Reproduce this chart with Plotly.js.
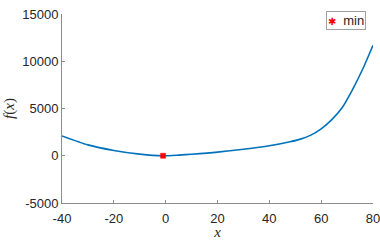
<!DOCTYPE html>
<html>
<head>
<meta charset="utf-8">
<script src="https://cdn.plot.ly/plotly-3.0.1.min.js"></script>
<style>html,body{margin:0;padding:0;background:#fff;}#chart{width:380px;height:240px;}</style>
</head>
<body>
<div id="chart"></div>
<script>
const xVals = [-40, -30, -20, -10, -1, 5, 10, 20, 30, 40, 48, 52, 56, 60, 64, 68, 72, 76, 80];
const fVals = [2100, 1150, 560, 170, 0, 70, 160, 380, 680, 1050, 1480, 1760, 2180, 2850, 3800, 5050, 6950, 9150, 11700];
const minX = [-1];
const minY = [0];
const seriesName = 'min';
const xTicks = [-40, -20, 0, 20, 40, 60, 80];
const yTicks = [-5000, 0, 5000, 10000, 15000];

const axisColor = '#8c8c8c';
const textColor = '#262626';

const traces = [
  {x: xVals, y: fVals, mode: 'lines', line: {color: '#0072BD', width: 1.6, shape: 'spline', smoothing: 0.7}, showlegend: false, hoverinfo: 'skip'},
  {x: minX, y: minY, mode: 'markers', name: seriesName, showlegend: false, marker: {symbol: 'square', color: '#ff0000', size: 5, line: {color: '#ff0000', width: 0.5}}}
];

const layout = {
  width: 380, height: 240,
  margin: {l: 62, r: 7, t: 14, b: 37},
  paper_bgcolor: '#fff', plot_bgcolor: '#fff',
  font: {family: 'Liberation Sans, Arial, sans-serif', size: 13, color: textColor},
  xaxis: {
    range: [-40, 80], tickvals: xTicks, ticktext: xTicks.map(String),
    showgrid: false, zeroline: false, showline: true, linecolor: axisColor, linewidth: 1,
    ticks: 'inside', ticklen: 3, tickcolor: axisColor, tickfont: {size: 13, color: textColor},
    ticklabeloverflow: 'allow', ticklabelstandoff: 3,
    title: {text: '<i>x</i>', font: {family: 'Liberation Serif, DejaVu Serif, serif', size: 15, color: textColor}, standoff: 3}
  },
  yaxis: {
    range: [-5000, 15000], tickvals: yTicks, ticktext: yTicks.map(String),
    showgrid: false, zeroline: false, showline: true, linecolor: axisColor, linewidth: 1,
    ticks: 'inside', ticklen: 3, tickcolor: axisColor, tickfont: {size: 13, color: textColor},
    title: {text: '<i>f</i>(<i>x</i>)', font: {family: 'Liberation Serif, DejaVu Serif, serif', size: 15, color: textColor}, standoff: 3}
  },
  annotations: [{
    xref: 'paper', yref: 'paper', x: 0.977, y: 1.016, xanchor: 'right', yanchor: 'top',
    text: '<span style="color:#ff0000;font-size:10px">✱</span>  ' + seriesName, showarrow: false,
    font: {size: 13, color: textColor}, bgcolor: '#fff', bordercolor: '#a0a0a0', borderwidth: 1, borderpad: 1
  }],
  showlegend: false
};

Plotly.newPlot('chart', traces, layout, {displayModeBar: false, staticPlot: true});
</script>
</body>
</html>
